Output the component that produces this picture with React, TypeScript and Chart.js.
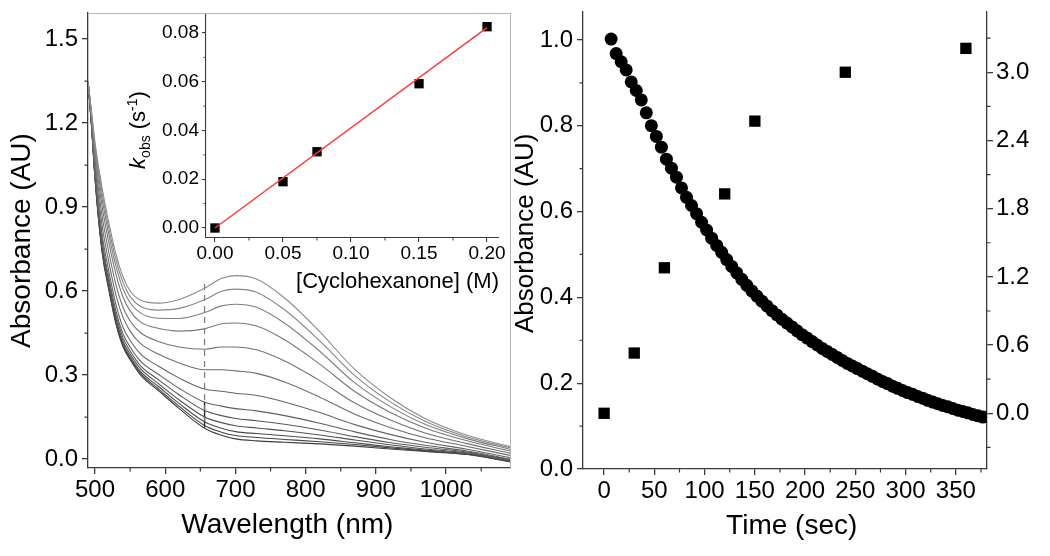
import React, { useEffect, useRef } from "react";
import { Chart, registerables } from "chart.js";

Chart.register(...registerables);

const FONT = "'Liberation Sans', Arial, Helvetica, sans-serif";
const AXIS = "#3a3a3a";

// ---------- Left panel: UV-vis spectra ----------
const wavelengths = [490, 495, 500, 510, 520, 530, 540, 550, 565, 590, 620, 656, 680, 700, 730, 770, 820, 870, 920, 970, 1030, 1091];
const spec01 = [1.35, 1.24, 1.13, 0.97, 0.84, 0.73, 0.65, 0.6, 0.567, 0.557, 0.57, 0.61, 0.645, 0.655, 0.643, 0.575, 0.455, 0.32, 0.22, 0.145, 0.085, 0.045];
const spec02 = [1.35, 1.236, 1.119, 0.951, 0.82, 0.71, 0.63, 0.58, 0.545, 0.532, 0.538, 0.569, 0.599, 0.607, 0.596, 0.533, 0.422, 0.298, 0.205, 0.135, 0.079, 0.04];
const spec03 = [1.35, 1.231, 1.107, 0.93, 0.798, 0.686, 0.607, 0.558, 0.521, 0.503, 0.502, 0.523, 0.547, 0.553, 0.542, 0.485, 0.385, 0.272, 0.188, 0.124, 0.073, 0.035];
const spec04 = [1.35, 1.226, 1.092, 0.903, 0.77, 0.658, 0.578, 0.529, 0.489, 0.467, 0.457, 0.465, 0.483, 0.486, 0.475, 0.426, 0.339, 0.241, 0.167, 0.111, 0.065, 0.029];
const spec05 = [1.35, 1.218, 1.073, 0.87, 0.735, 0.621, 0.541, 0.493, 0.451, 0.42, 0.4, 0.392, 0.4, 0.4, 0.39, 0.35, 0.28, 0.2, 0.14, 0.093, 0.055, 0.021];
const spec06 = [1.35, 1.211, 1.054, 0.836, 0.7, 0.584, 0.505, 0.457, 0.412, 0.375, 0.343, 0.319, 0.319, 0.315, 0.306, 0.275, 0.221, 0.16, 0.113, 0.076, 0.045, 0.013];
const spec07 = [1.35, 1.204, 1.036, 0.804, 0.667, 0.55, 0.47, 0.424, 0.375, 0.332, 0.289, 0.25, 0.242, 0.235, 0.227, 0.204, 0.166, 0.123, 0.088, 0.06, 0.035, 0.005];
const spec08 = [1.35, 1.199, 1.024, 0.783, 0.644, 0.526, 0.446, 0.4, 0.349, 0.303, 0.252, 0.203, 0.189, 0.18, 0.172, 0.155, 0.128, 0.097, 0.07, 0.049, 0.029, 0.0];
const spec09 = [1.35, 1.196, 1.016, 0.769, 0.63, 0.511, 0.432, 0.386, 0.333, 0.284, 0.229, 0.173, 0.155, 0.145, 0.137, 0.124, 0.104, 0.08, 0.059, 0.042, 0.025, -0.003];
const spec10 = [1.35, 1.194, 1.01, 0.758, 0.619, 0.5, 0.42, 0.375, 0.322, 0.27, 0.211, 0.15, 0.13, 0.119, 0.111, 0.101, 0.086, 0.068, 0.051, 0.036, 0.022, -0.006];
const spec11 = [1.35, 1.192, 1.006, 0.75, 0.611, 0.491, 0.411, 0.366, 0.312, 0.26, 0.198, 0.133, 0.11, 0.098, 0.091, 0.083, 0.072, 0.058, 0.044, 0.032, 0.019, -0.008];
const spec12 = [1.35, 1.191, 1.003, 0.745, 0.605, 0.485, 0.405, 0.36, 0.306, 0.251, 0.188, 0.12, 0.096, 0.084, 0.077, 0.07, 0.062, 0.052, 0.04, 0.029, 0.017, -0.009];
const spec13 = [1.35, 1.19, 1.0, 0.74, 0.6, 0.48, 0.4, 0.355, 0.3, 0.245, 0.18, 0.11, 0.085, 0.072, 0.065, 0.06, 0.054, 0.046, 0.036, 0.027, 0.016, -0.01];
const spectra = [spec01, spec02, spec03, spec04, spec05, spec06, spec07, spec08, spec09, spec10, spec11, spec12, spec13];
const switchX = [656, 656];
const switchDashY = [0.625, 0.115];
const switchSolidY = [0.112, 0.205];
const leftXTicks = [500, 600, 700, 800, 900, 1000];
const leftYTicks = [0, 0.3, 0.6, 0.9, 1.2, 1.5];

// ---------- Inset: kobs vs [cyclohexanone] ----------
const cyclohexanone = [0, 0.05, 0.075, 0.15, 0.2];
const kobs = [0.0, 0.019, 0.0313, 0.0592, 0.0826];
const fitX = [0, 0.2];
const fitY = [0.0, 0.0822];
const insetXTicks = [0, 0.05, 0.1, 0.15, 0.2];
const insetYTicks = [0, 0.02, 0.04, 0.06, 0.08];

// ---------- Right panel: kinetics ----------
const decayTime = [7, 12, 17, 22, 27, 32, 37, 42, 47, 52, 57, 62, 67, 72, 77, 82, 87, 92, 97, 102, 107, 112, 117, 122, 127, 132, 137, 142, 147, 152, 157, 162, 167, 172, 177, 182, 187, 192, 197, 202, 207, 212, 217, 222, 227, 232, 237, 242, 247, 252, 257, 262, 267, 272, 277, 282, 287, 292, 297, 302, 307, 312, 317, 322, 327, 332, 337, 342, 347, 352, 357, 362, 367, 372, 377];
const decayAbs = [1.002, 0.968, 0.949, 0.93, 0.902, 0.882, 0.86, 0.83, 0.8, 0.775, 0.75, 0.722, 0.701, 0.68, 0.655, 0.633, 0.614, 0.595, 0.575, 0.557, 0.538, 0.521, 0.505, 0.488, 0.472, 0.457, 0.442, 0.428, 0.415, 0.403, 0.391, 0.38, 0.369, 0.359, 0.349, 0.34, 0.331, 0.322, 0.313, 0.305, 0.297, 0.289, 0.281, 0.274, 0.267, 0.26, 0.253, 0.246, 0.24, 0.234, 0.228, 0.222, 0.216, 0.21, 0.204, 0.199, 0.193, 0.188, 0.183, 0.178, 0.174, 0.169, 0.165, 0.16, 0.156, 0.152, 0.148, 0.145, 0.141, 0.137, 0.134, 0.131, 0.127, 0.124, 0.121];
const squareTime = [0, 30, 60, 120, 150, 240, 360];
const squareValue = [0.0, 0.53, 1.28, 1.93, 2.57, 3.0, 3.21];
const rightXTicks = [0, 50, 100, 150, 200, 250, 300, 350];
const rightYTicks = [0, 0.2, 0.4, 0.6, 0.8, 1.0];
const rightY2Ticks = [0, 0.6, 1.2, 1.8, 2.4, 3.0];

const pts = (xs: number[], ys: number[]) => xs.map((x, i) => ({ x, y: ys[i] }));

const fixSize = (size: number) => (scale: any) => {
  if (scale.isHorizontal()) scale.height = size;
  else scale.width = size;
  scale.paddingTop = 0;
  scale.paddingBottom = 0;
  scale.paddingLeft = 0;
  scale.paddingRight = 0;
};

const useTicks = (values: number[]) => (scale: any) => {
  scale.ticks = values.map((value) => ({ value }));
};

const minorTicks = {
  id: "minorTicks",
  afterDraw(chart: any, _args: any, opts: any) {
    if (!opts || !opts.scales) return;
    const { ctx, chartArea } = chart;
    ctx.save();
    ctx.strokeStyle = opts.color || AXIS;
    ctx.lineWidth = opts.width || 1;
    const len = opts.length || 3.5;
    for (const id of opts.scales) {
      const sc = chart.scales[id];
      if (!sc || sc.ticks.length < 2) continue;
      const step = sc.ticks[1].value - sc.ticks[0].value;
      ctx.beginPath();
      for (let v = sc.ticks[0].value - step / 2; v <= sc.max + 1e-9; v += step) {
        if (v < sc.min) continue;
        const p = sc.getPixelForValue(v);
        if (sc.position === "bottom") {
          ctx.moveTo(p, chartArea.bottom);
          ctx.lineTo(p, chartArea.bottom + len);
        } else if (sc.position === "left") {
          ctx.moveTo(chartArea.left - len, p);
          ctx.lineTo(chartArea.left, p);
        } else if (sc.position === "right") {
          ctx.moveTo(chartArea.right, p);
          ctx.lineTo(chartArea.right + len, p);
        }
      }
      ctx.stroke();
    }
    ctx.restore();
  },
};

const richTitle = {
  id: "richTitle",
  afterDraw(chart: any, _args: any, opts: any) {
    if (!opts || !opts.parts) return;
    const ctx = chart.ctx;
    ctx.save();
    ctx.translate(opts.x, opts.y);
    ctx.rotate(-Math.PI / 2);
    ctx.fillStyle = opts.color || "#000";
    ctx.textBaseline = "alphabetic";
    ctx.textAlign = "left";
    const widths = opts.parts.map((p: any) => {
      ctx.font = p.font;
      return ctx.measureText(p.text).width;
    });
    const total = widths.reduce((a: number, b: number) => a + b, 0);
    let x = -total / 2;
    opts.parts.forEach((p: any, i: number) => {
      ctx.font = p.font;
      ctx.fillText(p.text, x, opts.baseline + (p.dy || 0));
      x += widths[i];
    });
    ctx.restore();
  },
};

const tickFont = (size: number) => ({ size, family: FONT });

function mainAxis(extra: any) {
  return {
    type: "linear",
    border: { color: AXIS, width: 1.3 },
    grid: { drawOnChartArea: false, tickLength: 6, color: AXIS, lineWidth: 1.3 },
    ...extra,
  };
}

const NB = "\u00A0";

export default function App() {
  const leftRef = useRef<HTMLCanvasElement>(null);
  const insetRef = useRef<HTMLCanvasElement>(null);
  const rightRef = useRef<HTMLCanvasElement>(null);

  useEffect(() => {
    const charts: Chart[] = [];
    const common = {
      animation: false,
      responsive: false,
      events: [],
    };

    // ----- Left panel -----
    const specSets: any[] = spectra.map((s, i) => {
      const g = Math.round(140 - i * 6.5);
      return {
        data: pts(wavelengths, s),
        borderColor: `rgb(${g},${g},${g})`,
        borderWidth: 1.1,
        pointRadius: 0,
        showLine: true,
        cubicInterpolationMode: "monotone",
        fill: false,
      };
    });
    specSets.push({
      data: pts(switchX, switchDashY),
      borderColor: "#777",
      borderWidth: 1.2,
      borderDash: [6, 5],
      pointRadius: 0,
      showLine: true,
    });
    specSets.push({
      data: pts(switchX, switchSolidY),
      borderColor: "#222",
      borderWidth: 1.4,
      pointRadius: 0,
      showLine: true,
    });

    charts.push(
      new Chart(leftRef.current!, {
        type: "scatter",
        data: { datasets: specSets },
        options: {
          ...common,
          layout: { padding: { top: 13, right: 10, left: 0, bottom: 0 } },
          plugins: {
            legend: { display: false },
            tooltip: { enabled: false },
            minorTicks: { scales: ["x", "y"], color: AXIS, width: 1.2, length: 3.5 },
          } as any,
          scales: {
            x: mainAxis({
              position: "bottom",
              min: 490,
              max: 1091,
              afterFit: fixSize(88),
              afterBuildTicks: useTicks(leftXTicks),
              ticks: {
                padding: 2,
                color: "#000",
                font: tickFont(24),
                maxRotation: 0,
                autoSkip: false,
                callback: (v: any) => String(v),
              },
              title: {
                display: true,
                text: "Wavelength (nm)" + NB + NB + NB,
                color: "#000",
                font: { size: 28, family: FONT },
                padding: { top: 0, bottom: 14 },
              },
            }),
            y: mainAxis({
              position: "left",
              min: -0.032,
              max: 1.593,
              afterFit: fixSize(88),
              afterBuildTicks: useTicks(leftYTicks),
              ticks: {
                padding: 4,
                color: "#000",
                font: tickFont(24),
                autoSkip: false,
                callback: (v: any) => Number(v).toFixed(1),
              },
              title: {
                display: true,
                text: "Absorbance (AU)",
                color: "#000",
                font: { size: 28, family: FONT },
                padding: { top: 5, bottom: 0 },
              },
            }),
            xTop: {
              type: "linear",
              position: "top",
              min: 0,
              max: 1,
              afterFit: fixSize(0),
              grid: { drawOnChartArea: false, drawTicks: false },
              ticks: { display: false },
              border: { color: "#b5b5b5", width: 1 },
            },
            yRight: {
              type: "linear",
              position: "right",
              min: 0,
              max: 1,
              afterFit: fixSize(0),
              grid: { drawOnChartArea: false, drawTicks: false },
              ticks: { display: false },
              border: { color: "#b5b5b5", width: 1 },
            },
          } as any,
        },
        plugins: [minorTicks],
      } as any)
    );

    // ----- Inset -----
    charts.push(
      new Chart(insetRef.current!, {
        type: "scatter",
        data: {
          datasets: [
            {
              data: pts(fitX, fitY),
              borderColor: "#ff3a3a",
              borderWidth: 1.5,
              pointRadius: 0,
              showLine: true,
            },
            {
              data: pts(cyclohexanone, kobs),
              pointStyle: "rect",
              pointRadius: 6.6,
              backgroundColor: "#000",
              borderColor: "#000",
              borderWidth: 0,
            },
          ],
        },
        options: {
          ...common,
          layout: { padding: { top: 15, right: 16, left: 0, bottom: 0 } },
          plugins: {
            legend: { display: false },
            tooltip: { enabled: false },
            minorTicks: { scales: ["x", "y"], color: AXIS, width: 1, length: 2.5 },
            richTitle: {
              x: 19,
              y: 130,
              baseline: 6,
              color: "#000",
              parts: [
                { text: "k", font: `italic 22px ${FONT}` },
                { text: "obs", font: `14px ${FONT}`, dy: 5 },
                { text: " (s", font: `22px ${FONT}` },
                { text: "-1", font: `14px ${FONT}`, dy: -8 },
                { text: ")", font: `22px ${FONT}` },
              ],
            },
          } as any,
          scales: {
            x: mainAxis({
              position: "bottom",
              min: -0.0066,
              max: 0.2088,
              afterFit: fixSize(62),
              afterBuildTicks: useTicks(insetXTicks),
              border: { color: AXIS, width: 1.1 },
              grid: { drawOnChartArea: false, tickLength: 4, color: AXIS, lineWidth: 1.1 },
              ticks: {
                padding: 0,
                color: "#000",
                font: tickFont(19),
                maxRotation: 0,
                autoSkip: false,
                callback: (v: any) => Number(v).toFixed(2),
              },
              title: {
                display: true,
                text: "[Cyclohexanone] (M)",
                align: "end",
                color: "#000",
                font: { size: 22, family: FONT },
                padding: { top: 0, bottom: 5 },
              },
            }),
            y: mainAxis({
              position: "left",
              min: -0.0041,
              max: 0.0874,
              afterFit: fixSize(86),
              afterBuildTicks: useTicks(insetYTicks),
              border: { color: AXIS, width: 1.1 },
              grid: { drawOnChartArea: false, tickLength: 4, color: AXIS, lineWidth: 1.1 },
              ticks: {
                padding: 3,
                color: "#000",
                font: tickFont(19),
                autoSkip: false,
                callback: (v: any) => Number(v).toFixed(2),
              },
            }),
          } as any,
        },
        plugins: [minorTicks, richTitle],
      } as any)
    );

    // ----- Right panel -----
    charts.push(
      new Chart(rightRef.current!, {
        type: "scatter",
        data: {
          datasets: [
            {
              data: pts(decayTime, decayAbs),
              yAxisID: "y",
              pointStyle: "circle",
              pointRadius: 6.5,
              backgroundColor: "#000",
              borderColor: "#000",
              borderWidth: 0,
            },
            {
              data: pts(squareTime, squareValue),
              yAxisID: "y2",
              pointStyle: "rect",
              pointRadius: 8,
              backgroundColor: "#000",
              borderColor: "#000",
              borderWidth: 0,
            },
          ],
        },
        options: {
          ...common,
          layout: { padding: { top: 12, right: 0, left: 0, bottom: 0 } },
          plugins: {
            legend: { display: false },
            tooltip: { enabled: false },
            minorTicks: { scales: ["x", "y", "y2"], color: AXIS, width: 1.2, length: 3.5 },
          } as any,
          scales: {
            x: mainAxis({
              position: "bottom",
              min: -21,
              max: 381,
              afterFit: fixSize(87),
              afterBuildTicks: useTicks(rightXTicks),
              ticks: {
                padding: 2,
                color: "#000",
                font: tickFont(24),
                maxRotation: 0,
                autoSkip: false,
                callback: (v: any) => String(v),
              },
              title: {
                display: true,
                text: NB + "\u2009" + "Time (sec)",
                color: "#000",
                font: { size: 28, family: FONT },
                padding: { top: 0, bottom: 13 },
              },
            }),
            y: mainAxis({
              position: "left",
              min: 0,
              max: 1.065,
              afterFit: fixSize(78),
              afterBuildTicks: useTicks(rightYTicks),
              ticks: {
                padding: 4,
                color: "#000",
                font: tickFont(24),
                autoSkip: false,
                callback: (v: any) => Number(v).toFixed(1),
              },
              title: {
                display: true,
                text: NB + NB + "Absorbance (AU)",
                color: "#000",
                font: { size: 26, family: FONT },
                padding: { top: 5, bottom: 0 },
              },
            }),
            y2: mainAxis({
              position: "right",
              min: -0.49,
              max: 3.53,
              afterFit: fixSize(63),
              afterBuildTicks: useTicks(rightY2Ticks),
              ticks: {
                padding: 3,
                color: "#000",
                font: tickFont(24),
                autoSkip: false,
                callback: (v: any) => Number(v).toFixed(1),
              },
            }),
          } as any,
        },
        plugins: [minorTicks],
      } as any)
    );

    return () => charts.forEach((c) => c.destroy());
  }, []);

  const abs = (left: number, top: number, width: number, height: number): React.CSSProperties => ({
    position: "absolute",
    left,
    top,
    width,
    height,
  });

  return (
    <div style={{ position: "absolute", left: 0, top: 0, width: 1050, height: 556, background: "#fff", overflow: "hidden" }}>
      <canvas ref={leftRef} width={520} height={556} style={abs(0, 0, 520, 556)} />
      <canvas ref={insetRef} width={395} height={300} style={abs(120, 0, 395, 300)} />
      <canvas ref={rightRef} width={545} height={556} style={abs(505, 0, 545, 556)} />
    </div>
  );
}
